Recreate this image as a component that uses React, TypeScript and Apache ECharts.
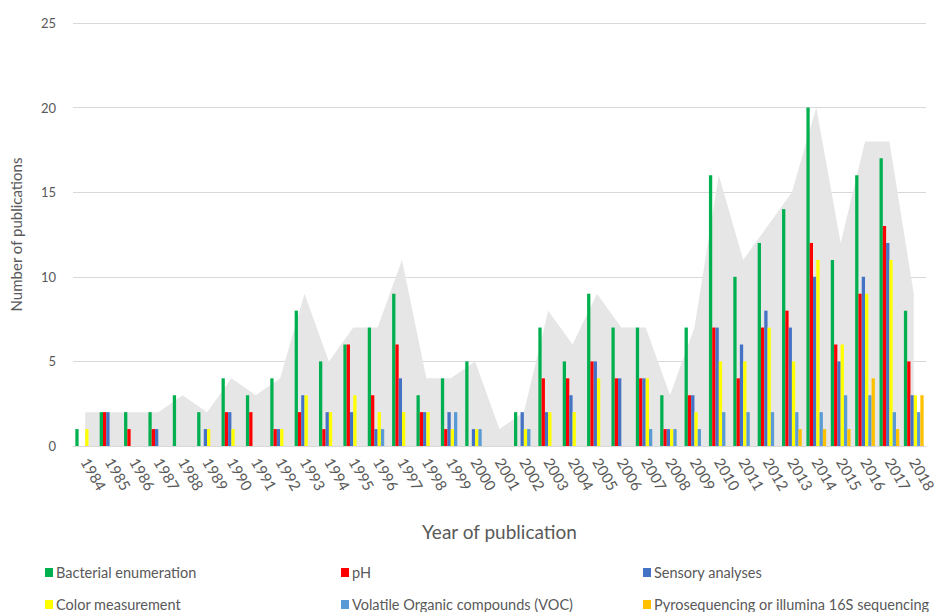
import React, { useEffect, useRef } from "react";
import * as echarts from "echarts";

const years = [
  "1984","1985","1986","1987","1988","1989","1990","1991","1992","1993",
  "1994","1995","1996","1997","1998","1999","2000","2001","2002","2003",
  "2004","2005","2006","2007","2008","2009","2010","2011","2012","2013",
  "2014","2015","2016","2017","2018",
];

const totalArea = [2,2,2,2,3,2,4,3,4,9,5,7,7,11,4,4,5,1,2,8,6,9,7,7,3,7,16,11,13,15,20,12,18,18,9];
const bacterial = [1,2,2,2,3,2,4,3,4,8,5,6,7,9,3,4,5,0,2,7,5,9,7,7,3,7,16,10,12,14,20,11,16,17,8];
const ph        = [0,2,1,1,0,0,2,2,1,2,1,6,3,6,2,1,0,0,0,4,4,5,4,4,1,3,7,4,7,8,12,6,9,13,5];
const sensory   = [0,2,0,1,0,1,2,0,1,3,2,2,1,4,2,2,1,0,2,2,3,5,4,4,1,3,7,6,8,7,10,5,10,12,3];
const color     = [1,0,0,0,0,1,1,0,1,3,2,3,2,2,2,1,1,0,1,2,2,4,0,4,1,2,5,5,7,5,11,6,9,11,3];
const voc       = [0,0,0,0,0,0,0,0,0,0,0,0,1,0,0,2,1,0,1,0,0,0,0,1,1,1,2,2,2,2,2,3,3,2,2];
const pyro      = [0,0,0,0,0,0,0,0,0,0,0,0,0,0,0,0,0,0,0,0,0,0,0,0,0,0,0,0,0,1,1,1,4,1,3];

const seriesNames = [
  "Bacterial enumeration",
  "pH",
  "Sensory analyses",
  "Color measurement",
  "Volatile Organic compounds (VOC)",
  "Pyrosequencing or illumina 16S sequencing",
];
const seriesColors = ["#00b050", "#ff0000", "#4472c4", "#ffff00", "#5b9bd5", "#ffc000"];
const seriesData = [bacterial, ph, sensory, color, voc, pyro];

const FONT = "Lato, 'Noto Sans', sans-serif";
const TXT = "#595959";

export default function App() {
  const ref = useRef<HTMLDivElement>(null);
  useEffect(() => {
    document.body.style.margin = "0";
    if (!ref.current) return;
    const chart = echarts.init(ref.current, undefined, { renderer: "svg" });
    const legendPos = [
      [45, 565], [341, 565], [643, 565],
      [45, 597], [341, 597], [643, 597],
    ];
    chart.setOption({
      animation: false,
      textStyle: { fontFamily: FONT },
      grid: { left: 70, right: 5, top: 23, bottom: 166, containLabel: false },
      legend: seriesNames.map((n, i) => ({
        data: [n],
        left: legendPos[i][0],
        top: legendPos[i][1],
        icon: "rect",
        itemWidth: 8,
        itemHeight: 9,
        itemGap: 4,
        padding: 0,
        selectedMode: false,
        textStyle: { color: TXT, fontSize: 14.5, fontFamily: FONT, padding: [0, 0, 0, -2] },
      })),
      xAxis: {
        type: "category",
        data: years,
        name: "Year of publication",
        nameLocation: "middle",
        nameGap: 76,
        nameTextStyle: { color: TXT, fontSize: 19, fontFamily: FONT },
        axisLine: { lineStyle: { color: "#d9d9d9" } },
        axisTick: { show: false },
        axisLabel: { color: TXT, fontSize: 15, rotate: -60, interval: 0, margin: 13, fontFamily: FONT },
      },
      yAxis: {
        type: "value",
        min: 0,
        max: 25,
        interval: 5,
        name: "Number of publications",
        nameLocation: "middle",
        nameGap: 50,
        nameTextStyle: { color: TXT, fontSize: 15, fontFamily: FONT },
        axisLabel: { color: TXT, fontSize: 13, margin: 17, fontFamily: FONT },
        splitLine: { lineStyle: { color: "#d9d9d9" } },
        axisLine: { show: false },
        axisTick: { show: false },
      },
      series: [
        {
          name: "Total",
          type: "line",
          data: totalArea,
          symbol: "none",
          lineStyle: { width: 0 },
          areaStyle: { color: "#e6e6e6", opacity: 1 },
          z: 1,
          silent: true,
        },
        ...seriesNames.map((n, i) => ({
          name: n,
          type: "bar",
          data: seriesData[i],
          itemStyle: { color: seriesColors[i] },
          barGap: "0%",
          barCategoryGap: "19%",
          z: 3,
        })),
      ],
    });
    return () => chart.dispose();
  }, []);
  return <div ref={ref} style={{ width: 939, height: 612 }} />;
}
